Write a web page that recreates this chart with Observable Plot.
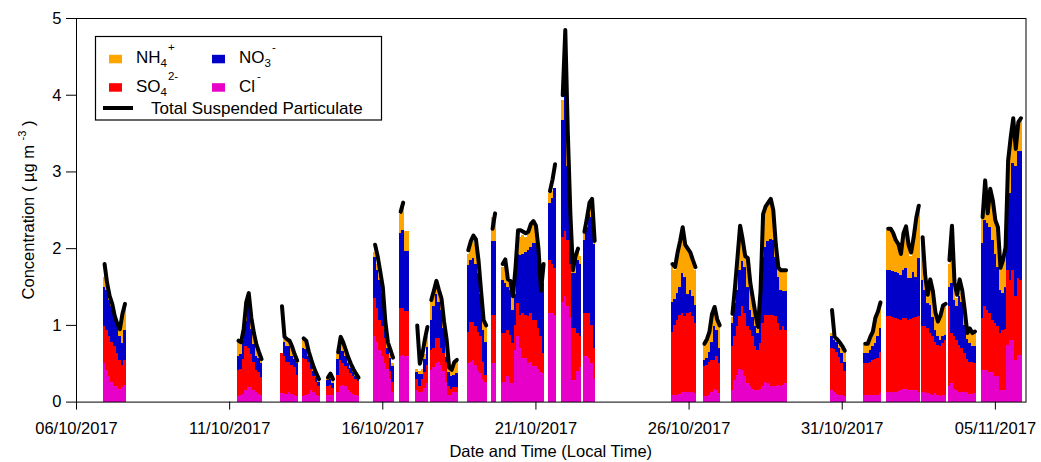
<!DOCTYPE html>
<html>
<head>
<meta charset="utf-8">
<script src="https://cdn.jsdelivr.net/npm/d3@7"></script>
<script src="https://cdn.jsdelivr.net/npm/@observablehq/plot@0.6"></script>
<style>
  html, body { margin: 0; padding: 0; background: #fff; }
  #chart { position: relative; width: 1041px; height: 462px; }
</style>
</head>
<body>
<div id="chart"></div>
<script>
// Ion species, stacked from the bottom up, and their fill colours
const ions = ["Cl-", "SO4 2-", "NO3-", "NH4+"];
const ionColors = ["#e600c8", "#ff0000", "#0000c8", "#ffa500"];

// Start of each measurement run (local time); every bar is a 2-hour average
const segmentStart = [
  "2017-10-06T21:00Z", "2017-10-11T06:00Z", "2017-10-12T16:00Z", "2017-10-13T09:00Z",
  "2017-10-14T04:00Z", "2017-10-14T12:00Z", "2017-10-15T17:00Z", "2017-10-16T13:00Z",
  "2017-10-17T02:00Z", "2017-10-17T13:00Z", "2017-10-18T18:00Z", "2017-10-19T13:00Z",
  "2017-10-19T21:00Z", "2017-10-21T10:00Z", "2017-10-21T20:00Z", "2017-10-22T13:00Z",
  "2017-10-25T10:00Z", "2017-10-26T11:00Z", "2017-10-27T09:00Z", "2017-10-30T15:00Z",
  "2017-10-31T17:00Z", "2017-11-01T11:00Z", "2017-11-02T14:00Z", "2017-11-03T11:00Z",
  "2017-11-04T13:00Z"
];

// Chloride (µg m-3), one list per run
const cl = [
  [.50,.41,.33,.26,.20,.20,.17,.19,.22],
  [.07,.08,.10,.15,.19,.19,.15,.12,.10,.08],
  [.11,.10,.10,.13,.10,.09,.07],
  [.07,.08,.10,.15,.12,.09,.07],
  [.08,.09,.08],
  [.13,.20,.22,.20,.15,.12,.10,.09,.07],
  [.85,.78,.67,.59,.50,.42,.30,.13],
  [.60,.61,.59,.59],
  [.15,.13,.13,.18,.24],
  [.41,.45,.50,.52,.48,.40,.25,.09,.09,.13,.13],
  [.50,.52,.54,.48,.40,.37,.30,.26],
  [.50,.50],
  [.26,.26,.33,.24,.24,.67,.85,.70,.57,.57,.50,.52,.46,.46,.42,.39,.37],
  [1.15,1.15,1.13],
  [1.30,1.37,1.24,1.10,.28,.28,.40,.45],
  [.59,.59,.57,.50,.30],
  [.09,.09,.09,.10,.12,.12,.12,.12,.12,.11],
  [.07,.07,.09,.13,.16,.15,.11],
  [.15,.28,.35,.43,.41,.33,.24,.20,.16,.15,.15,.17,.20,.26,.24,.20,.20,.20,.22,.20,.22,.24],
  [.15,.12,.10,.09,.08,.07],
  [.09,.09,.09,.09,.09,.09,.11],
  [.13,.13,.13,.13,.14,.15,.16,.16,.15,.15,.15,.15,.13],
  [.13,.13,.11,.10,.09,.11,.09,.07,.08,.09],
  [.20,.24,.17,.15,.13,.13,.13,.12,.10,.10,.11],
  [.41,.41,.41,.39,.39,.33,.33,.15,.15,.15,.74,.80,.80,.54,.61,.61]
];

// Sulphate (µg m-3)
const so4 = [
  [.48,.52,.52,.52,.52,.43,.37,.29,.32],
  [.34,.35,.45,.57,.51,.43,.37,.29,.28,.24],
  [.52,.50,.42,.39,.38,.36,.28],
  [.50,.48,.42,.27,.21,.17,.13],
  [.12,.12,.10],
  [.22,.34,.28,.27,.27,.25,.23,.21,.20],
  [.50,.44,.40,.39,.33,.20,.10,.12],
  [.62,.61,.59,.59],
  [.15,.07,.17,.21,.24],
  [.26,.25,.33,.31,.22,.23,.27,.11,.08,.06,.06],
  [.41,.52,.50,.50,.51,.48,.22,.09],
  [.63,.63],
  [.63,.64,.60,.63,.52,.33,.43,.43,.58,.56,.61,.63,.60,.60,.54,.46,.26],
  [.70,.65,.61],
  [.85,.85,.87,.70,.68,.68,.50,.40],
  [.56,.56,.58,.50,.40],
  [.82,.91,.98,1.03,1.03,.99,1.03,1.05,.99,.91],
  [.39,.41,.43,.41,.38,.44,.39],
  [.57,.57,.63,.68,.83,.82,.74,.73,.69,.57,.52,.59,.82,.87,.89,.93,.93,.91,.80,.73,.76,.69],
  [.55,.56,.55,.49,.42,.33],
  [.41,.41,.43,.45,.47,.48,.54],
  [.98,.98,.97,.96,.94,.92,.93,.93,.92,.93,.94,.95,.98],
  [.85,.85,.85,.80,.76,.67,.65,.65,.68,.71],
  [1.04,.65,.68,.65,.61,.57,.50,.43,.42,.42,.39],
  [.68,.83,.79,.76,.68,.69,.65,.74,.78,.80,.98,.79,.92,.83,1.00,.98]
];

// Nitrate (µg m-3)
const no3 = [
  [.52,.53,.48,.46,.39,.35,.31,.28,.39],
  [.18,.19,.25,.33,.63,.33,.23,.19,.19,.18],
  [0,.18,.20,.20,.12,.10,.15],
  [.13,.12,.08,.08,.07,.06,.06],
  [.08,.09,.06],
  [.20,.18,.16,.13,.08,.07,.05,.04,.03],
  [.54,.50,.52,.43,.12,.08,.17,.21],
  [.98,1.02,.78,.78],
  [.08,.16,.06,.17,.23],
  [.40,.55,.57,.47,.50,.33,.06,.18,.16,.16,.18],
  [.87,.81,.83,.82,.77,.55,.41,.43],
  [.96,.96],
  [.70,.65,.57,.58,.44,.40,.65,.78,.78,.82,.87,.87,1.01,1.01,.97,.87,.91],
  [.74,.85,1.04],
  [1.52,1.88,.96,.57,.71,.71,.95,.95],
  [.95,1.13,1.30,1.40,1.36],
  [.39,.34,.35,.37,.52,.51,.25,.29,.26,.24],
  [.08,.09,.12,.24,.44,.34,.20],
  [.30,.43,.48,.61,.59,.60,.52,.27,.25,.26,.22,.57,.87,.89,.96,.99,.97,.78,.61,.53,.46,.51],
  [.15,.12,.13,.12,.13,.12],
  [.13,.13,.15,.18,.20,.28,.31],
  [.61,.61,.60,.60,.59,.58,.63,.65,.54,.53,.60,.53,.76],
  [.61,.47,.32,.36,.25,.15,.11,.08,.09,.07],
  [.26,.66,.48,.45,.63,.60,.37,.27,.24,.20,.22],
  [.98,1.13,1.13,1.13,1.04,.91,.78,.56,.48,.55,.91,1.13,1.39,1.70,1.65,1.67]
];

// Ammonium (µg m-3)
const nh4 = [
  [.12,.06,.05,.04,.01,.02,.10,.36,.35],
  [.21,.16,.15,.25,.09,.15,.13,.15,.08,.06],
  [0,.04,.10,.08,.12,.07,.04],
  [.10,.10,.06,.05,.05,.05,.04],
  [.04,.07,.06],
  [.07,.10,.10,.06,.06,.04,.04,.02,.02],
  [.06,.08,.06,.01,.05,.05,.05,.04],
  [.25,.31,.26,.26],
  [.04,.04,.06,.06,.14],
  [.26,.15,.15,.15,.13,.07,.22,.07,.12,.17,.16],
  [.15,.20,.23,.25,.12,0,.12,.21],
  [.31,.37],
  [.16,.25,.10,.10,.18,.10,.25,.24,.24,.20,.20,.28,.29,.25,.12,.03,.06],
  [.13,.10,0],
  [.26,.75,.43,.08,.05,.18,.13,.10],
  [.12,.12,.13,.15,.04],
  [.48,.38,.48,.55,.58,.43,.58,.46,.45,.46],
  [.20,.23,.28,.34,.22,.15,.28],
  [.08,.17,.39,.53,.27,.13,.35,.32,.22,.14,.06,.07,.51,.50,.49,.50,.35,.11,.12,.26,.28,.28],
  [.05,.02,.02,.04,.07,.12],
  [.11,.13,.16,.18,.29,.30,.34],
  [.52,.52,.48,.39,.33,.25,.46,.53,.49,.29,.46,.72,.68],
  [.51,.15,.12,.32,.32,.22,.20,.30,.40,.41],
  [.30,.55,.17,.10,.18,.12,.15,.10,.20,.20,.20],
  [.31,.48,.12,.47,.49,.42,.49,.30,.41,.45,.42,.68,.54,.23,.34,.44]
];

// Total suspended particulate (µg m-3); null where it was not recorded
const tsp = [
  [1.80,1.55,1.38,1.28,1.12,1.02,0.95,1.15,1.28],
  [0.80,0.78,0.95,1.30,1.42,1.10,0.90,0.75,0.65,0.56],
  [1.25,0.85,0.82,0.80,0.72,0.62,0.54],
  [0.83,0.80,0.66,0.55,0.45,0.37,0.30],
  [0.32,0.37,0.30],
  [0.65,0.85,0.78,0.68,0.58,0.50,0.43,0.37,0.32],
  [2.05,1.90,1.70,1.50,1.05,0.78,0.68,0.58],
  [2.48,2.60,null,null],
  [1.00,0.50,0.62,0.82,0.98],
  [1.33,1.45,1.58,1.46,1.35,1.05,0.82,0.45,0.42,0.52,0.55],
  [1.98,2.10,2.17,2.12,1.85,1.45,1.07,1.00],
  [2.26,2.46],
  [1.80,1.86,1.60,1.58,1.38,1.75,2.24,2.24,2.22,2.20,2.22,2.32,2.36,2.30,2.00,1.45,1.80],
  [2.75,2.90,3.10],
  [4.00,4.85,3.50,2.45,1.72,1.90,2.00,null],
  [2.22,2.40,2.60,2.65,2.10],
  [1.80,1.76,1.95,2.10,2.28,2.05,2.00,1.95,1.85,1.76],
  [0.76,0.82,0.92,1.15,1.24,1.08,1.00],
  [1.15,1.50,1.90,2.30,2.12,1.90,1.88,1.55,1.35,1.15,0.98,1.45,2.45,2.55,2.60,2.65,2.50,2.05,1.75,1.72,1.72,1.72],
  [1.20,0.85,0.82,0.78,0.73,0.67],
  [0.76,0.76,0.85,0.92,1.10,1.18,1.30],
  [2.26,2.26,2.20,2.11,2.06,1.93,2.20,2.29,2.05,1.95,2.15,2.40,2.56],
  [2.15,1.65,1.40,1.60,1.45,1.17,1.05,1.13,1.26,1.28],
  [1.85,2.30,1.55,1.40,1.60,1.46,1.20,0.90,0.96,0.90,0.92],
  [2.41,2.89,2.46,2.78,2.63,2.37,2.28,1.75,1.85,2.02,3.15,3.45,3.70,3.30,3.65,3.70]
];

// Axis ticks
const xTickDates = ["2017-10-06", "2017-10-11", "2017-10-16", "2017-10-21", "2017-10-26", "2017-10-31", "2017-11-05"];
const yTicks = [0, 1, 2, 3, 4, 5];
const xDomain = ["2017-10-06T00:00Z", "2017-11-06T00:00Z"];

// Long-format tables for the stacked bars and the TSP line
const HOUR = 3600e3;
const STEP = 2 * HOUR;
const bars = [];
const totals = [];
segmentStart.forEach((s, k) => {
  const t0 = new Date(s);
  const parts = [cl[k], so4[k], no3[k], nh4[k]];
  for (let i = 0; i < cl[k].length; i++) {
    const t1 = new Date(+t0 + i * STEP);
    const t2 = new Date(+t1 + STEP);
    parts.forEach((arr, j) => bars.push({t1, t2, ion: ions[j], value: arr[i] ?? 0}));
    totals.push({t: new Date(+t1 + HOUR), tsp: tsp[k][i], run: k});
  }
});

const FONT = "'Liberation Sans', Arial, Helvetica, sans-serif";
const W = 1041, H = 462;
const mL = 76, mR = 15.5, mT = 18, mB = 60.4;

const chart = Plot.plot({
  width: W,
  height: H,
  marginLeft: mL,
  marginRight: mR,
  marginTop: mT,
  marginBottom: mB,
  style: {fontFamily: FONT, fontSize: "16.5px", color: "black", background: "white"},
  x: {type: "utc", domain: xDomain.map(d => new Date(d))},
  y: {domain: [0, 5]},
  color: {domain: ions, range: ionColors},
  marks: [
    Plot.rectY(bars, {x1: "t1", x2: "t2", y: "value", fill: "ion", shapeRendering: "crispEdges"}),
    Plot.line(totals, {x: "t", y: "tsp", z: "run", stroke: "black", strokeWidth: 4}),
    Plot.frame({stroke: "black", strokeWidth: 1}),
    Plot.axisX({
      ticks: xTickDates.map(d => new Date(d + "T00:00Z")),
      tickFormat: d3.utcFormat("%d/%m/%Y"),
      tickSize: 8, tickPadding: 12, fontSize: 16.5, label: null
    }),
    Plot.axisY({ticks: yTicks, tickFormat: d => String(d), tickSize: 10, tickPadding: 5, fontSize: 16.5, label: null})
  ]
});

document.getElementById("chart").appendChild(chart);

// Titles and legend drawn into the same SVG
const svg = d3.select(chart);
const g = svg.append("g").attr("font-family", FONT).attr("fill", "black").attr("text-anchor", "start");

g.append("text")
  .attr("x", mL + (W - mL - mR) / 2).attr("y", 456.5)
  .attr("text-anchor", "middle").attr("font-size", 16.5)
  .text("Date and Time (Local Time)");

const yl = g.append("text")
  .attr("transform", "translate(34,210) rotate(-90)")
  .attr("text-anchor", "middle").attr("font-size", 16.5);
yl.append("tspan").text("Concentration ( µg m ");
yl.append("tspan").attr("font-size", 11).attr("dy", -8).text("-3");
yl.append("tspan").attr("font-size", 16.5).attr("dy", 8).text(" )");

const lg = g.append("g").attr("text-anchor", "start");
lg.append("rect").attr("x", 95.5).attr("y", 36.5).attr("width", 286).attr("height", 83.5)
  .attr("fill", "white").attr("stroke", "black").attr("stroke-width", 1.2);

const legendItems = [
  {color: ionColors[3], x: 109, y: 63.3, base: "NH", sub: "4", sup: "+"},
  {color: ionColors[2], x: 212, y: 63.3, base: "NO", sub: "3", sup: "-"},
  {color: ionColors[1], x: 109, y: 91.7, base: "SO", sub: "4", sup: "2-"},
  {color: ionColors[0], x: 212, y: 91.7, base: "Cl", sub: null, sup: "-"}
];
legendItems.forEach(d => {
  lg.append("rect").attr("x", d.x).attr("y", d.y - 8.5).attr("width", 13).attr("height", 8.5).attr("fill", d.color);
  const t = lg.append("text").attr("x", d.x + 27).attr("y", d.y).attr("font-size", 17);
  t.append("tspan").text(d.base);
  if (d.sub) {
    t.append("tspan").attr("font-size", 11.5).attr("dy", 4).text(d.sub);
    t.append("tspan").attr("font-size", 11.5).attr("dy", -16).attr("dx", 1).text(d.sup);
  } else {
    t.append("tspan").attr("font-size", 11.5).attr("dy", -12).attr("dx", 2).text(d.sup);
  }
});
lg.append("line").attr("x1", 103).attr("x2", 133).attr("y1", 108).attr("y2", 108)
  .attr("stroke", "black").attr("stroke-width", 4);
lg.append("text").attr("x", 151).attr("y", 113.5).attr("font-size", 17).text("Total Suspended Particulate");
</script>
</body>
</html>
